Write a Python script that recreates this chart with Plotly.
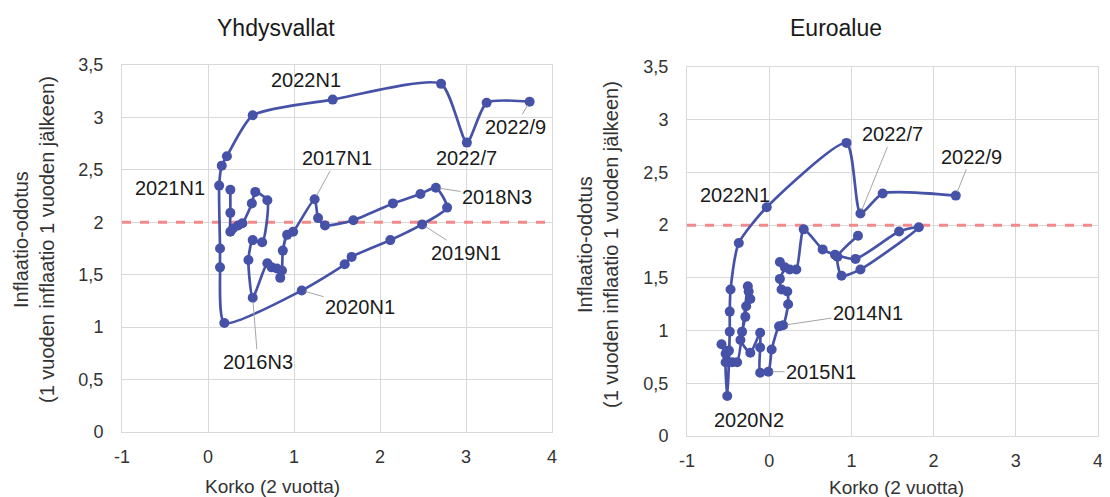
import plotly.graph_objects as go

# ---------------- data ----------------
us_x = [0.26, 0.26, 0.26, 0.29, 0.35, 0.40, 0.51, 0.55, 0.69, 0.63, 0.52, 0.47, 0.52,
        0.69, 0.74, 0.80, 0.84, 0.86, 0.87, 0.92, 0.99, 1.24, 1.28, 1.36, 1.69, 2.15,
        2.47, 2.65, 2.78, 2.49, 2.12, 1.67, 1.59, 1.09, 0.19, 0.14, 0.14, 0.13, 0.16,
        0.22, 0.52, 1.45, 2.71, 3.01, 3.24, 3.74]
us_y = [2.31, 2.09, 1.91, 1.94, 1.97, 1.99, 2.18, 2.29, 2.21, 1.81, 1.83, 1.64, 1.28,
        1.61, 1.57, 1.56, 1.47, 1.54, 1.73, 1.88, 1.91, 2.22, 2.04, 1.97, 2.02, 2.18,
        2.27, 2.33, 2.14, 1.98, 1.83, 1.67, 1.60, 1.35, 1.04, 1.57, 1.75, 2.35, 2.54,
        2.63, 3.02, 3.17, 3.32, 2.76, 3.14, 3.15]

ea_x = [1.08, 0.83, 0.88, 1.11, 1.82, 1.58, 1.05, 0.80, 0.65, 0.42, 0.33, 0.25, 0.13,
        0.19, 0.13, 0.15, 0.22, 0.23, 0.17, 0.12, 0.03, -0.01, -0.11, -0.11, -0.11,
        -0.23, -0.35, -0.33, -0.29, -0.28, -0.23, -0.25, -0.26, -0.39, -0.45, -0.53,
        -0.58, -0.49, -0.53, -0.51, -0.48, -0.48, -0.47, -0.37, -0.03, 0.94, 1.11,
        1.38, 2.27]
ea_y = [1.90, 1.70, 1.52, 1.58, 1.98, 1.94, 1.68, 1.72, 1.77, 1.96, 1.58, 1.58, 1.65,
        1.60, 1.49, 1.39, 1.37, 1.25, 1.05, 1.04, 0.82, 0.61, 0.60, 0.84, 0.98,
        0.79, 0.91, 0.99, 1.13, 1.23, 1.30, 1.37, 1.42, 0.70, 0.70, 0.78,
        0.87, 0.81, 0.70, 0.38, 0.99, 1.18, 1.39, 1.83, 2.17, 2.78, 2.11,
        2.30, 2.28]

# labels: (text, point x, point y, text x, text y, leader)
us_labels = [
    ("2022N1", 1.45, 3.17, 1.14, 3.36, False),
    ("2022/7", 3.01, 2.76, 3.00, 2.61, False),
    ("2022/9", 3.74, 3.15, 3.57, 2.91, True),
    ("2017N1", 1.24, 2.22, 1.50, 2.61, True),
    ("2018N3", 2.65, 2.33, 3.36, 2.24, True),
    ("2019N1", 2.49, 1.98, 3.00, 1.71, True),
    ("2020N1", 1.09, 1.35, 1.77, 1.19, True),
    ("2021N1", 0.13, 2.35, -0.44, 2.33, False),
    ("2016N3", 0.52, 1.28, 0.58, 0.67, True),
]
ea_labels = [
    ("2022N1", -0.03, 2.17, -0.42, 2.29, False),
    ("2022/7", 1.11, 2.11, 1.50, 2.86, True),
    ("2022/9", 2.27, 2.28, 2.46, 2.65, True),
    ("2014N1", 0.17, 1.05, 1.20, 1.17, True),
    ("2015N1", -0.01, 0.61, 0.63, 0.61, True),
    ("2020N2", -0.51, 0.38, -0.24, 0.15, False),
]

x_ticks = [-1, 0, 1, 2, 3, 4]
x_ticktext = ["-1", "0", "1", "2", "3", "4"]
y_ticks = [0, 0.5, 1, 1.5, 2, 2.5, 3, 3.5]
y_ticktext = ["0", "0,5", "1", "1,5", "2", "2,5", "3", "3,5"]
target = 2
titles = ["Yhdysvallat", "Euroalue"]
x_title = "Korko (2 vuotta)"
y_title = "Inflaatio-odotus<br>(1 vuoden inflaatio 1 vuoden jälkeen)"

BLUE = "#4652A8"
RED = "#F28A8C"
GRID = "#D9D9D9"
FONT = "Liberation Sans, Arial, sans-serif"
W, H = 1110, 497
OFF = 8  # page body margin
LABEL_SIZE = 20
TICK_SIZE = 18


def px_x(p):
    return (p - OFF) / W


def px_y(p):
    return 1 - (p - OFF) / H


fig = go.Figure()

for i, (xs, ys) in enumerate([(us_x, us_y), (ea_x, ea_y)]):
    xa = "x" if i == 0 else "x2"
    ya = "y" if i == 0 else "y2"
    fig.add_trace(go.Scatter(x=[x_ticks[0], x_ticks[-1]], y=[target, target], mode="lines",
                             line=dict(color=RED, width=3, dash="dash"),
                             xaxis=xa, yaxis=ya, showlegend=False, hoverinfo="skip"))
    fig.add_trace(go.Scatter(x=xs, y=ys, mode="lines+markers",
                             line=dict(color=BLUE, width=2.7, shape="spline", smoothing=0.6),
                             marker=dict(color=BLUE, size=10),
                             xaxis=xa, yaxis=ya, showlegend=False))

ann = []
for i, labels in enumerate([us_labels, ea_labels]):
    xr = "x" if i == 0 else "x2"
    yr = "y" if i == 0 else "y2"
    for text, px, py, tx, ty, leader in labels:
        if leader:
            ann.append(dict(x=px, y=py, ax=tx, ay=ty, xref=xr, yref=yr, axref=xr, ayref=yr,
                            text=text, showarrow=True, arrowhead=0, arrowwidth=1,
                            arrowcolor="#A6A6A6", standoff=4,
                            font=dict(size=LABEL_SIZE, color="#1a1a1a", family=FONT)))
        else:
            ann.append(dict(x=tx, y=ty, xref=xr, yref=yr, text=text, showarrow=False,
                            xanchor="center", yanchor="middle",
                            font=dict(size=LABEL_SIZE, color="#1a1a1a", family=FONT)))


def paper_text(px, py, text, size, angle=0, color="#333333"):
    return dict(x=px_x(px), y=px_y(py), xref="paper", yref="paper", text=text,
                xanchor="center", yanchor="middle", textangle=angle, showarrow=False,
                font=dict(size=size, color=color, family=FONT))


ann.append(paper_text(276, 28, titles[0], 23, color="#1a1a1a"))
ann.append(paper_text(836, 28, titles[1], 23, color="#1a1a1a"))
ann.append(paper_text(272, 486, x_title, 19))
ann.append(paper_text(896, 487, x_title, 19))
ann.append(paper_text(34, 240, y_title, 20, angle=-90))
ann.append(paper_text(598, 245, y_title, 20, angle=-90))

axis_common = dict(showgrid=True, gridcolor=GRID, gridwidth=1, zeroline=False,
                   showline=True, linecolor=GRID, mirror=True, ticks="", automargin=False,
                   tickfont=dict(size=TICK_SIZE, color="#333333", family=FONT))

fig.update_layout(
    width=W, height=H,
    margin=dict(l=0, r=0, t=0, b=0),
    paper_bgcolor="white", plot_bgcolor="white",
    font=dict(family=FONT),
    annotations=ann,
    xaxis=dict(domain=[px_x(122), px_x(552)], range=[-1, 4], tickvals=x_ticks,
               ticktext=x_ticktext, anchor="y", ticklabelstandoff=8, **axis_common),
    yaxis=dict(domain=[px_y(432), px_y(65)], range=[0, 3.5], tickvals=y_ticks,
               ticktext=y_ticktext, anchor="x", ticklabelstandoff=14, **axis_common),
    xaxis2=dict(domain=[px_x(687), px_x(1098)], range=[-1, 4], tickvals=x_ticks,
                ticktext=x_ticktext, anchor="y2", ticklabelstandoff=8, **axis_common),
    yaxis2=dict(domain=[px_y(436), px_y(67)], range=[0, 3.5], tickvals=y_ticks,
                ticktext=y_ticktext, anchor="x2", ticklabelstandoff=14, **axis_common),
)

fig.write_html("out.html")
